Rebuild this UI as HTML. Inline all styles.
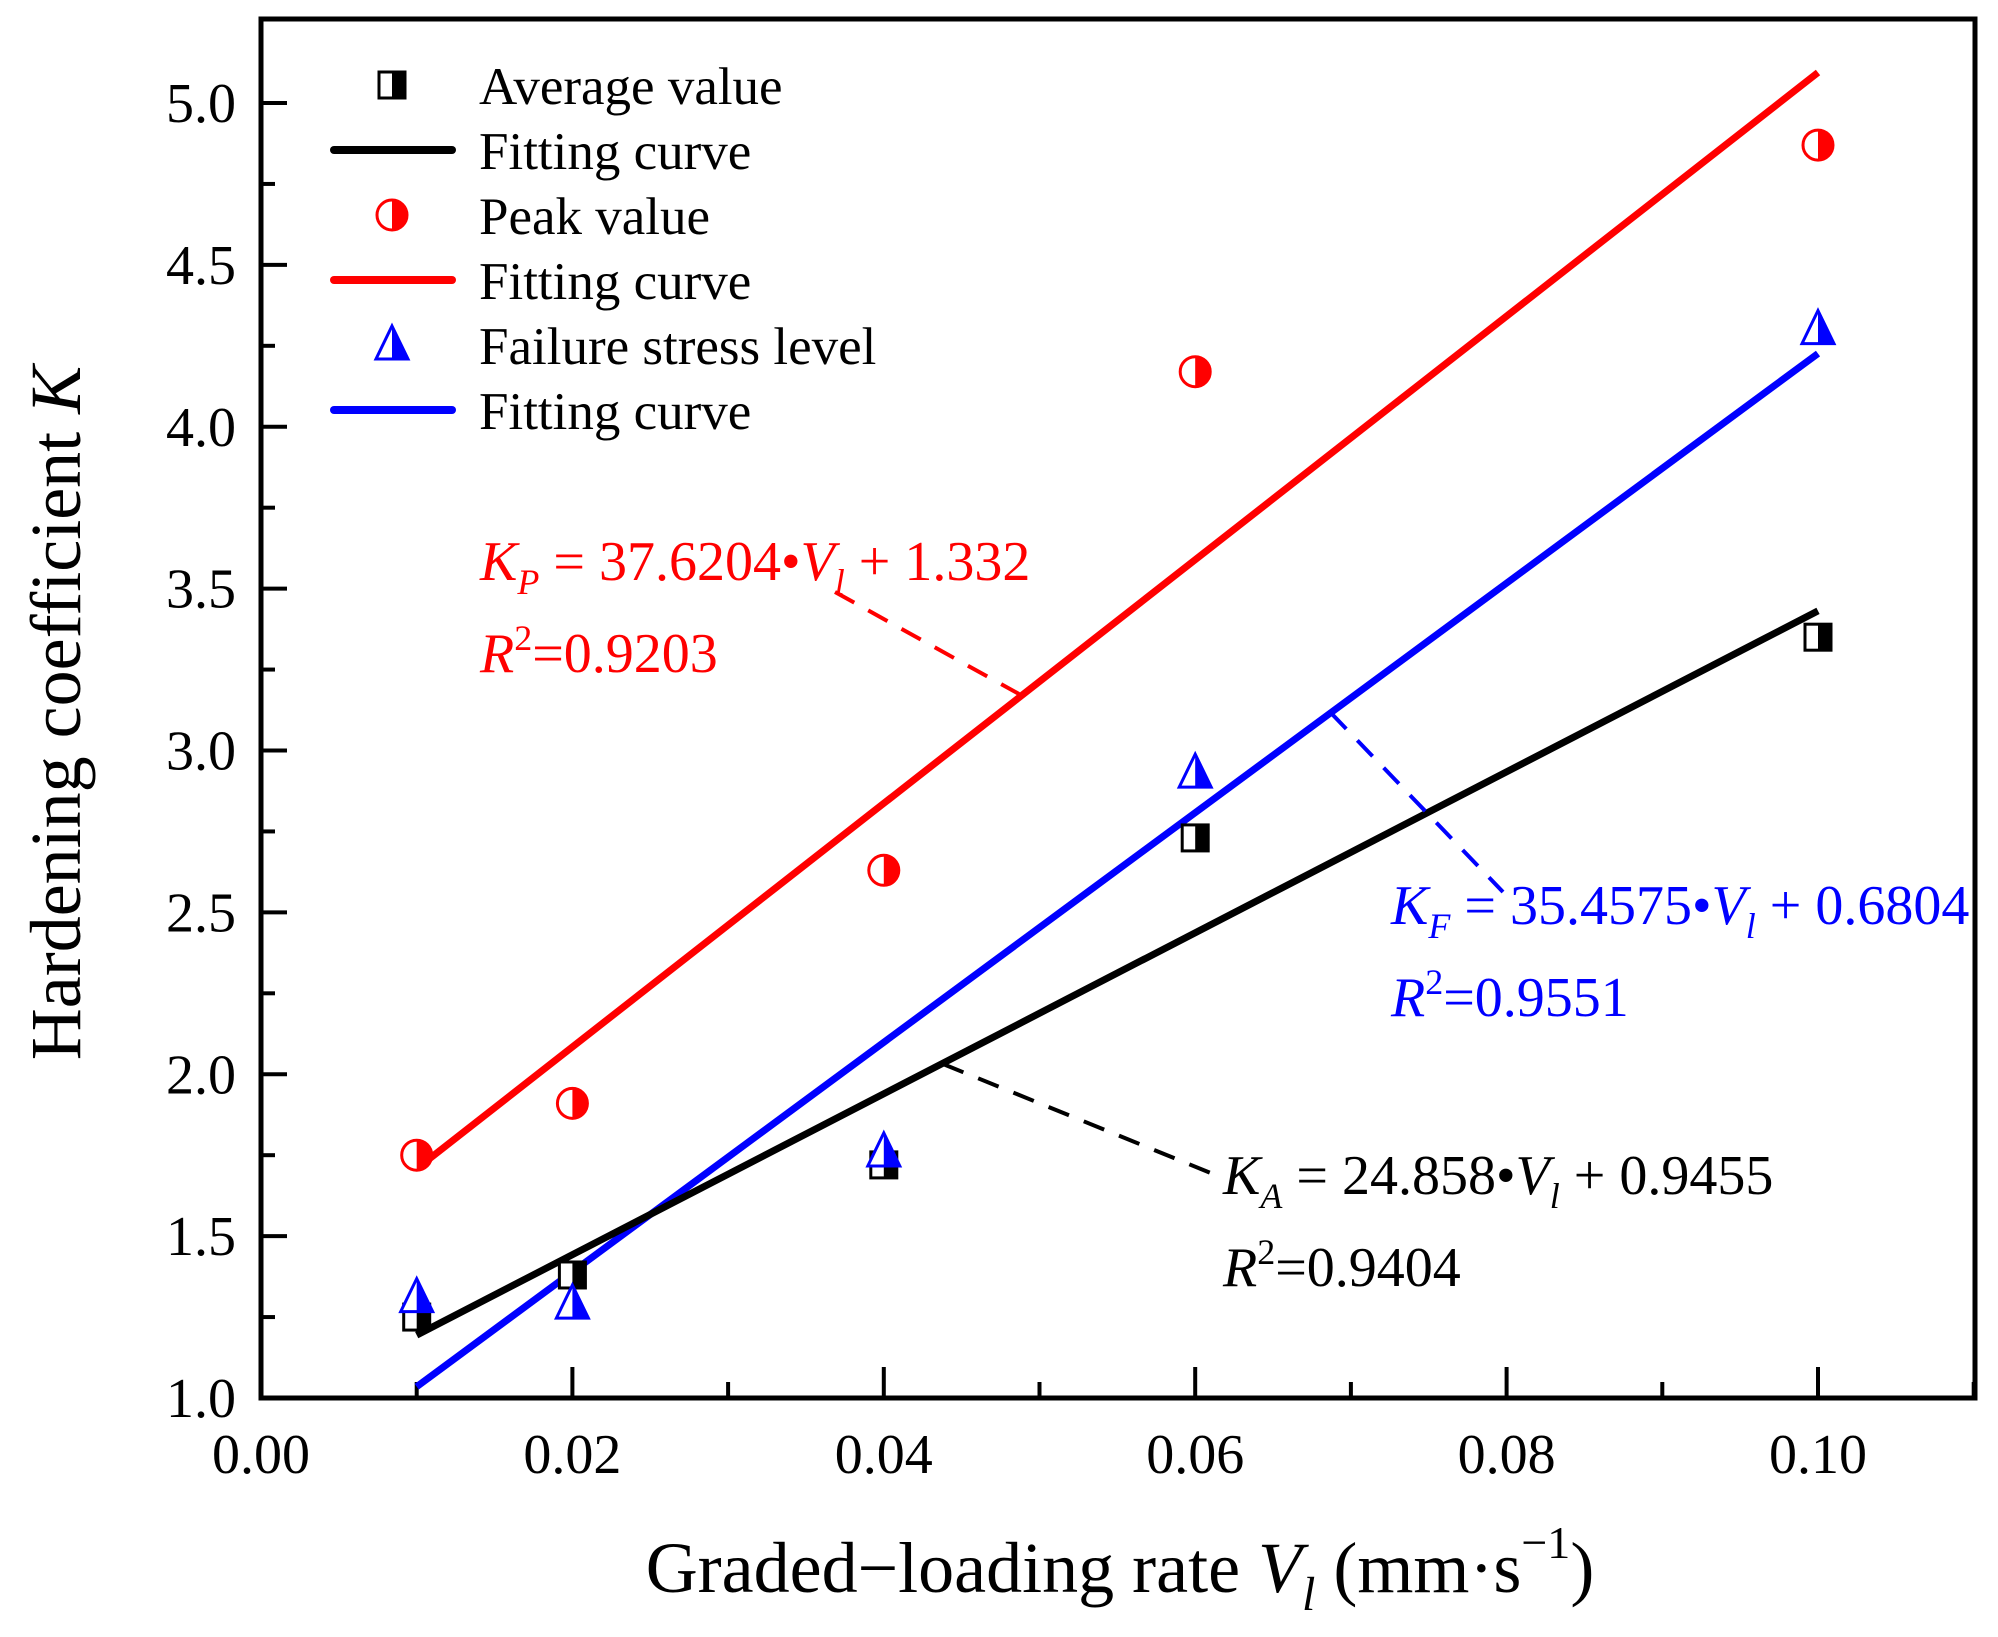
<!DOCTYPE html>
<html><head><meta charset="utf-8"><style>
html,body{margin:0;padding:0;background:#fff}
svg{display:block;font-family:"Liberation Serif",serif}
</style></head><body>
<svg id="chart" width="1998" height="1637" viewBox="0 0 1998 1637" xmlns="http://www.w3.org/2000/svg">
<g id="plot"></g>
</svg>
<script>
const xTicks=[0,0.02,0.04,0.06,0.08,0.10];
const xTickLabels=["0.00","0.02","0.04","0.06","0.08","0.10"];
const yTicks=[1.0,1.5,2.0,2.5,3.0,3.5,4.0,4.5,5.0];
const yTickLabels=["1.0","1.5","2.0","2.5","3.0","3.5","4.0","4.5","5.0"];
const rates=[0.01,0.02,0.04,0.06,0.10];
const avgVals=[1.25,1.38,1.72,2.73,3.35];
const peakVals=[1.75,1.91,2.63,4.17,4.87];
const failVals=[1.31,1.29,1.76,2.93,4.30];
const fitAvg=[24.858,0.9455];
const fitPeak=[37.6204,1.332];
const fitFail=[35.4575,0.6804];
const fitRange=[0.01,0.10];

const NS="http://www.w3.org/2000/svg";
const L=261,R=1975,T=19,B=1398;
const X=v=>261+(1818-261)*v/0.10;
const Y=v=>1398-(1398-103)*(v-1)/4;
const g=document.getElementById('plot');
function mk(tag,at,parent){const e=document.createElementNS(NS,tag);for(const k in at)e.setAttribute(k,at[k]);(parent||g).appendChild(e);return e;}

let f=mk('rect',{x:L,y:T,width:R-L,height:B-T,fill:'none',stroke:'#000','stroke-width':5});


for(let i=0;i<=11;i++){
  const v=i*0.01,major=i%2===0;
  const t=mk('line',{x1:X(v),x2:X(v),y1:B,y2:B-(major?31:16),stroke:'#000','stroke-width':4});
  
  
}
xTicks.forEach((v,i)=>{
  const t=mk('text',{x:X(v),y:1473,'font-size':56,'text-anchor':'middle'});
  t.textContent=xTickLabels[i];
  
  
});
for(let i=0;i<=16;i++){
  const v=1+i*0.25,major=i%2===0;
  const t=mk('line',{x1:L,x2:L+(major?26:14),y1:Y(v),y2:Y(v),stroke:'#000','stroke-width':4});
  
  
}
yTicks.forEach((v,i)=>{
  const t=mk('text',{x:236,y:Y(v)+19,'font-size':56,'text-anchor':'end'});
  t.textContent=yTickLabels[i];
  
  
});
let xt=mk('text',{x:1120,y:1592,'font-size':72,'text-anchor':'middle'});
xt.innerHTML='Graded−loading rate <tspan font-style="italic">V</tspan><tspan font-style="italic" font-size="48" dy="18">l</tspan><tspan dy="-18"> (mm·s</tspan><tspan font-size="46" dy="-34">−1</tspan><tspan dy="34">)</tspan>';


let yt=mk('text',{x:0,y:0,'font-size':72,'text-anchor':'middle',transform:'translate(80,713) rotate(-90)'});
yt.innerHTML='Hardening coefficient <tspan font-style="italic">K</tspan>';



function fit(p,color,name){
  const l=mk('line',{x1:X(fitRange[0]),y1:Y(p[0]*fitRange[0]+p[1]),x2:X(fitRange[1]),y2:Y(p[0]*fitRange[1]+p[1]),stroke:color,'stroke-width':7});
  
  
}
fit(fitPeak,'#ff0000','peak-fit-line');
fit(fitFail,'#0000ff','failure-fit-line');
fit(fitAvg,'#000','average-fit-line');

function square(cx,cy,parent){
  mk('rect',{x:cx-13,y:cy-13,width:26,height:26,fill:'#fff',stroke:'#000','stroke-width':3},parent);
  mk('rect',{x:cx,y:cy-13,width:13,height:26,fill:'#000'},parent);
}
function circ(cx,cy,parent){
  mk('circle',{cx:cx,cy:cy,r:15,fill:'#fff',stroke:'#f00','stroke-width':3},parent);
  mk('path',{d:`M${cx},${cy-15} A15,15 0 0 1 ${cx},${cy+15} Z`,fill:'#f00'},parent);
}
function tri(cx,cy,parent){
  mk('path',{d:`M${cx},${cy-19} L${cx+16},${cy+14} L${cx-16},${cy+14} Z`,fill:'#fff',stroke:'#00f','stroke-width':3},parent);
  mk('path',{d:`M${cx},${cy-19} L${cx+16},${cy+14} L${cx},${cy+14} Z`,fill:'#00f'},parent);
}
rates.forEach((r,i)=>{
  let a=mk('g',{});square(X(r),Y(avgVals[i]),a);
  let p=mk('g',{});circ(X(r),Y(peakVals[i]),p);
  let q=mk('g',{});tri(X(r),Y(failVals[i]),q);
});

function dash(x1,y1,x2,y2,c,name){
  const l=mk('line',{x1,y1,x2,y2,stroke:c,'stroke-width':4,'stroke-dasharray':'22 16'});
  
  
}
dash(835,592,1019,694,'#f00','peak-leader-line');
dash(1331,713,1503,892,'#00f','failure-leader-line');
dash(943,1064,1223,1178,'#000','average-leader-line');
function eq(x,y,c,sub,body,r2,name){
  const t=mk('text',{x:x,y:y,'font-size':56,fill:c});
  t.innerHTML=`<tspan font-style="italic">K</tspan><tspan font-style="italic" font-size="36" dy="14">${sub}</tspan><tspan dy="-14"> = ${body[0]}•</tspan><tspan font-style="italic">V</tspan><tspan font-style="italic" font-size="36" dy="14">l</tspan><tspan dy="-14"> + ${body[1]}</tspan>`;
  
  
  const r=mk('text',{x:x,y:y+92,'font-size':56,fill:c});
  r.innerHTML=`<tspan font-style="italic">R</tspan><tspan font-size="36" dy="-22">2</tspan><tspan dy="22">=${r2}</tspan>`;
  
  
}
eq(480,580,'#f00','P',['37.6204','1.332'],'0.9203','peak');
eq(1391,924,'#00f','F',['35.4575','0.6804'],'0.9551','failure');
eq(1223,1194,'#000','A',['24.858','0.9455'],'0.9404','average');

const lg=mk('g',{});


const rows=[['Average value','sq'],['Fitting curve','#000'],['Peak value','ci'],['Fitting curve','#f00'],['Failure stress level','tr'],['Fitting curve','#00f']];
rows.forEach((r,i)=>{
  const y=85+i*65;
  const e=mk('g',{},lg);
  
  
  if(r[1]==='sq')square(392,y,e);
  else if(r[1]==='ci')circ(392,y,e);
  else if(r[1]==='tr')tri(392,y,e);
  else mk('line',{x1:334,x2:452,y1:y,y2:y,stroke:r[1],'stroke-width':8,'stroke-linecap':'round'},e);
  const t=mk('text',{x:479,y:y+19,'font-size':53},e);
  t.textContent=r[0];
});
</script>
</body></html>
